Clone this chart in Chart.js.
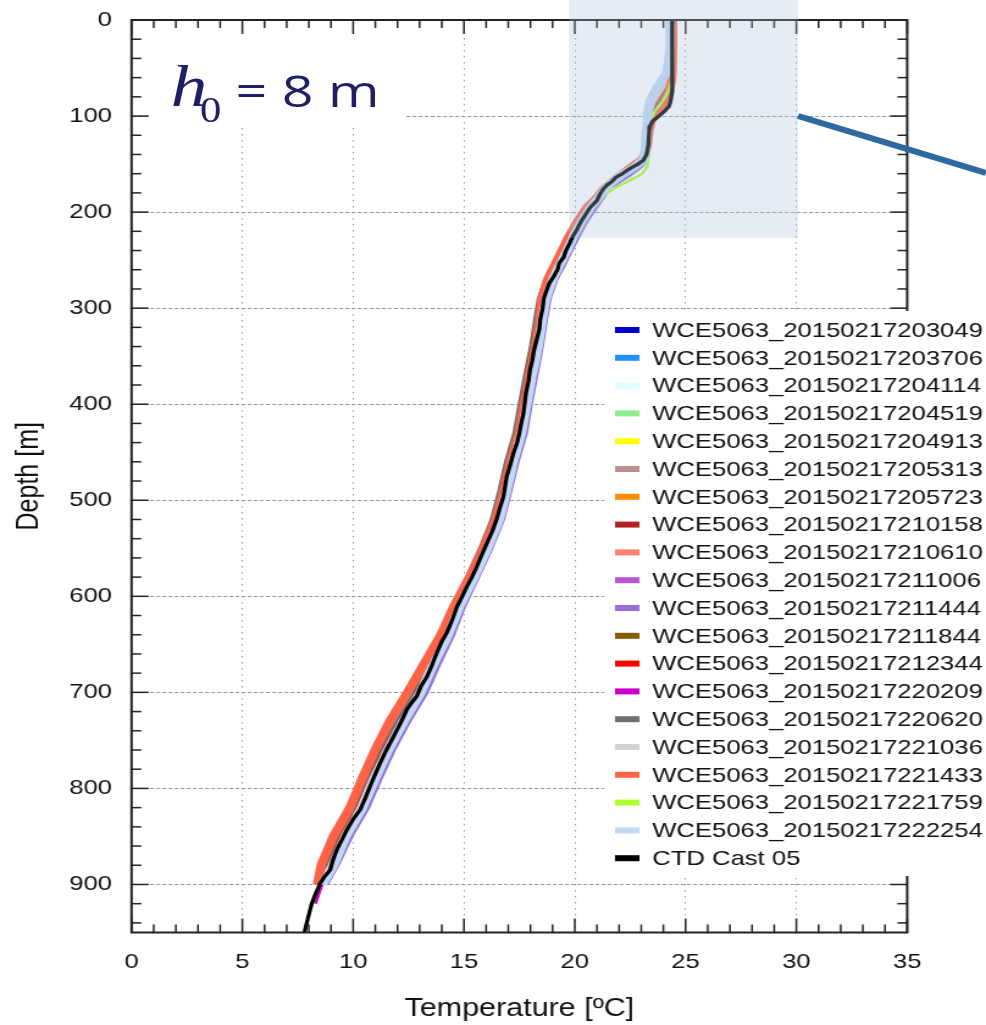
<!DOCTYPE html>
<html lang="en">
<head>
<meta charset="utf-8">
<title>Depth vs Temperature</title>
<script src="https://cdn.jsdelivr.net/npm/chart.js@4.4.1/dist/chart.umd.min.js"></script>
<style>
  html, body { margin: 0; padding: 0; background: #fff; overflow: hidden; }
  /* the source figure is stretched sideways, so the whole stage is too */
  #stage { position: relative; width: 808px; height: 1025px; transform: scaleX(1.2203); transform-origin: 0 0; }
  #depthChart { position: absolute; left: 0; top: 0; }
  #overlay { position: absolute; left: 0; top: 0; }
</style>
</head>
<body>
<div id="stage">
  <canvas id="depthChart" width="808" height="1025"></canvas>
  <svg id="overlay" width="808" height="1025" viewBox="0 0 808 1025">
    <rect x="466.3" y="0" width="187.7" height="238" fill="#a8bfdc" fill-opacity="0.3"/>
    <line x1="654" y1="116" x2="808" y2="173" stroke="#2e6aa1" stroke-width="6"/>
    <rect x="123" y="37" width="209" height="91" fill="#fff"/>
    <g fill="#201f66">
      <text x="140" y="106" font-family="Liberation Serif, serif" font-style="italic" font-size="60">h</text>
      <text x="164" y="122" font-family="Liberation Serif, serif" font-size="35">0</text>
      <text transform="translate(193 107) scale(1.06 1)" font-family="Open Sans, sans-serif" font-weight="500" font-size="43">= 8 m</text>
    </g>
  </svg>
</div>

<script>
// depth levels [m] shared by the WCE profiles
const DEPTH = [0, 30, 55, 65, 75, 85, 95, 105, 115, 130, 145, 152, 160, 168, 176, 185, 195,
  210, 225, 240, 255, 270, 290, 310, 340, 370, 400, 430, 460, 490, 520, 550, 580, 610, 640, 670, 700,
  730, 760, 790, 820, 850, 880, 900, 920, 950]

// the CTD cast is sampled more finely
const CTD_DEPTH = [0, 30, 60, 75, 85, 90, 95, 100, 105, 110, 115, 130, 140, 146, 150, 153, 156, 160, 164, 168,
  172, 176, 182, 188, 195, 202, 210, 218, 225, 232, 240, 247, 253, 260, 267, 274, 282, 290, 300, 312,
  322, 333, 345, 355, 364, 375, 388, 399, 410, 420, 430, 440, 451, 462, 475, 485, 497, 508, 520, 532,
  545, 557, 569, 580, 590, 600, 611, 624, 638, 648, 659, 672, 684, 694, 704, 712, 718, 730, 746, 760,
  774, 786, 798, 810, 822, 832, 843, 853, 864, 875, 885, 892, 899, 910, 920, 935, 950]

const X_TICKS = [0, 5, 10, 15, 20, 25, 30, 35]
const Y_TICKS = [0, 100, 200, 300, 400, 500, 600, 700, 800, 900]

// temperature [ºC] at each depth level, null = no data
const WCE_203049 = [24.42, 24.42, 24.40, 24.35, 24.22, 24.05, 23.70, 23.45, 23.36, 23.30, 23.12, 22.70, 22.18, 21.70, 21.30, 21.05, 20.70,
  20.30, 19.95, 19.63, 19.30, 18.95, 18.65, 18.50, 18.30, 18.03, 17.79, 17.55, 17.17, 16.87, 16.53, 16.00, 15.40, 14.75, 14.25, 13.60, 13.03,
  12.25, 11.55, 10.95, 10.38, 9.63, 9.07, 8.55, null, null]
const WCE_203706 = [24.45, 24.45, 24.40, 24.30, 24.10, 23.85, 23.55, 23.42, 23.35, 23.30, 23.12, 22.70, 22.20, 21.72, 21.32, 21.07, 20.72,
  20.33, 19.98, 19.66, 19.33, 18.98, 18.68, 18.53, 18.33, 18.06, 17.82, 17.58, 17.20, 16.90, 16.56, 16.03, 15.43, 14.78, 14.28, 13.63, 13.06,
  12.28, 11.58, 10.98, 10.41, 9.66, 9.10, 8.58, null, null]
const WCE_204114 = [24.44, 24.44, 24.38, 24.28, 24.05, 23.80, 23.52, 23.40, 23.34, 23.29, 23.14, 22.72, 22.22, 21.74, 21.34, 21.08, 20.74,
  20.37, 20.02, 19.70, 19.37, 19.02, 18.72, 18.57, 18.37, 18.10, 17.86, 17.62, 17.24, 16.94, 16.60, 16.07, 15.47, 14.82, 14.32, 13.67, 13.10,
  12.32, 11.62, 11.02, 10.45, 9.70, 9.14, 8.62, null, null]
const WCE_204519 = [24.42, 24.42, 24.40, 24.36, 24.25, 24.08, 23.72, 23.45, 23.36, 23.30, 23.14, 22.72, 22.22, 21.74, 21.34, 21.09, 20.76,
  20.40, 20.05, 19.73, 19.40, 19.05, 18.75, 18.60, 18.40, 18.13, 17.89, 17.65, 17.27, 16.97, 16.63, 16.10, 15.50, 14.85, 14.35, 13.70, 13.13,
  12.35, 11.65, 11.05, 10.48, 9.73, 9.17, 8.65, null, null]
const WCE_204913 = [24.45, 24.45, 24.42, 24.32, 24.15, 23.95, 23.75, 23.48, 23.38, 23.32, 23.15, 22.72, 22.22, 21.74, 21.34, 21.08, 20.74,
  20.43, 20.08, 19.76, 19.43, 19.08, 18.78, 18.63, 18.43, 18.16, 17.92, 17.68, 17.30, 17.00, 16.66, 16.13, 15.53, 14.88, 14.38, 13.73, 13.16,
  12.38, 11.68, 11.08, 10.51, 9.76, 9.20, 8.68, null, null]
const WCE_205313 = [24.45, 24.45, 24.35, 24.15, 23.90, 23.60, 23.45, 23.38, 23.33, 23.28, 23.10, 22.70, 22.20, 21.70, 21.30, 21.05, 20.70,
  20.27, 19.92, 19.60, 19.27, 18.92, 18.62, 18.47, 18.27, 18.00, 17.76, 17.52, 17.14, 16.84, 16.50, 15.97, 15.37, 14.72, 14.22, 13.57, 13.00,
  12.22, 11.52, 10.92, 10.35, 9.60, 9.04, 8.52, null, null]
const WCE_205723 = [24.45, 24.45, 24.40, 24.30, 24.10, 23.85, 23.55, 23.42, 23.35, 23.28, 23.08, 22.62, 22.10, 21.62, 21.22, 20.98, 20.60,
  20.10, 19.75, 19.43, 19.10, 18.75, 18.45, 18.30, 18.10, 17.83, 17.59, 17.35, 16.97, 16.67, 16.33, 15.80, 15.20, 14.55, 14.05, 13.40, 12.83,
  12.05, 11.35, 10.75, 10.18, 9.43, 8.87, 8.35, null, null]
const WCE_210158 = [24.46, 24.46, 24.36, 24.18, 23.92, 23.62, 23.46, 23.38, 23.33, 23.28, 23.10, 22.68, 22.18, 21.68, 21.28, 21.03, 20.66,
  20.20, 19.85, 19.53, 19.20, 18.85, 18.55, 18.40, 18.20, 17.93, 17.69, 17.45, 17.07, 16.77, 16.43, 15.90, 15.30, 14.65, 14.15, 13.50, 12.93,
  12.15, 11.45, 10.85, 10.28, 9.53, 8.97, 8.45, null, null]
const WCE_210610 = [24.42, 24.42, 24.40, 24.36, 24.25, 24.08, 23.72, 23.45, 23.36, 23.28, 23.06, 22.60, 22.08, 21.60, 21.20, 20.95, 20.55,
  20.05, 19.70, 19.38, 19.05, 18.70, 18.40, 18.25, 18.05, 17.78, 17.54, 17.30, 16.92, 16.62, 16.28, 15.75, 15.15, 14.50, 14.00, 13.35, 12.78,
  12.00, 11.30, 10.70, 10.13, 9.38, 8.82, 8.30, null, null]
const WCE_211006 = [24.45, 24.45, 24.40, 24.30, 24.10, 23.85, 23.55, 23.42, 23.36, 23.32, 23.18, 22.80, 22.32, 21.84, 21.44, 21.18, 20.85,
  20.47, 20.12, 19.80, 19.47, 19.12, 18.82, 18.67, 18.47, 18.20, 17.96, 17.72, 17.34, 17.04, 16.70, 16.17, 15.57, 14.92, 14.42, 13.77, 13.20,
  12.42, 11.72, 11.12, 10.55, 9.80, 9.24, 8.72, null, null]
const WCE_211444 = [24.45, 24.45, 24.42, 24.38, 24.30, 24.12, 23.85, 23.55, 23.42, 23.35, 23.25, 23.00, 22.55, 22.00, 21.55, 21.25, 20.95,
  20.50, 20.15, 19.82, 19.50, 19.15, 18.85, 18.70, 18.50, 18.25, 18.00, 17.78, 17.40, 17.08, 16.75, 16.22, 15.62, 15.00, 14.50, 13.88, 13.30,
  12.52, 11.82, 11.22, 10.65, 9.90, 9.28, 8.78, null, null]
const WCE_211844 = [24.44, 24.44, 24.34, 24.12, 23.88, 23.58, 23.44, 23.37, 23.33, 23.29, 23.10, 22.66, 22.15, 21.68, 21.28, 21.05, 20.70,
  20.25, 19.90, 19.58, 19.25, 18.90, 18.60, 18.45, 18.25, 17.98, 17.74, 17.50, 17.12, 16.82, 16.48, 15.95, 15.35, 14.70, 14.20, 13.55, 12.98,
  12.20, 11.50, 10.90, 10.33, 9.58, 9.02, 8.50, null, null]
const WCE_212344 = [24.50, 24.50, 24.35, 24.20, 23.95, 23.65, 23.48, 23.40, 23.35, 23.30, 23.12, 22.70, 22.20, 21.70, 21.30, 21.02, 20.65,
  20.20, 19.85, 19.50, 19.15, 18.82, 18.52, 18.38, 18.18, 17.92, 17.68, 17.42, 17.05, 16.75, 16.42, 15.88, 15.28, 14.62, 14.10, 13.45, 12.85,
  12.05, 11.30, 10.60, 10.10, 9.40, 8.85, 8.45, null, null]
const WCE_220209 = [24.42, 24.42, 24.40, 24.37, 24.28, 24.12, 23.78, 23.46, 23.37, 23.31, 23.12, 22.70, 22.20, 21.72, 21.32, 21.08, 20.74,
  20.35, 20.00, 19.68, 19.35, 19.00, 18.70, 18.55, 18.35, 18.08, 17.84, 17.60, 17.22, 16.92, 16.58, 16.05, 15.45, 14.80, 14.30, 13.65, 13.08,
  12.30, 11.60, 11.00, 10.43, 9.68, 9.12, 8.60, 8.30, null]
const WCE_220620 = [24.45, 24.45, 24.40, 24.30, 24.10, 23.85, 23.55, 23.42, 23.35, 23.28, 23.08, 22.62, 22.10, 21.62, 21.22, 20.96, 20.58,
  20.00, 19.65, 19.33, 19.00, 18.65, 18.35, 18.20, 18.00, 17.73, 17.49, 17.25, 16.87, 16.57, 16.23, 15.70, 15.10, 14.45, 13.95, 13.30, 12.73,
  11.95, 11.22, 10.62, 10.05, 9.30, 8.77, 8.28, null, null]
const WCE_221036 = [24.45, 24.45, 24.35, 24.15, 23.90, 23.60, 23.45, 23.38, 23.33, 23.28, 23.08, 22.66, 22.14, 21.66, 21.26, 21.00, 20.64,
  20.15, 19.80, 19.48, 19.15, 18.80, 18.50, 18.35, 18.15, 17.88, 17.64, 17.40, 17.02, 16.72, 16.38, 15.85, 15.25, 14.60, 14.10, 13.45, 12.88,
  12.10, 11.40, 10.80, 10.23, 9.48, 8.92, 8.40, null, null]
const WCE_221433 = [24.42, 24.42, 24.40, 24.35, 24.25, 24.10, 23.80, 23.45, 23.35, 23.28, 23.05, 22.60, 22.15, 21.70, 21.30, 21.00, 20.55,
  20.12, 19.75, 19.43, 19.10, 18.78, 18.52, 18.43, 18.23, 17.96, 17.72, 17.48, 17.10, 16.80, 16.44, 15.88, 15.25, 14.55, 13.95, 13.20, 12.45,
  11.65, 10.98, 10.40, 9.85, 9.10, 8.55, 8.38, null, null]
const WCE_221759 = [24.45, 24.45, 24.40, 24.35, 24.20, 23.95, 23.60, 23.42, 23.38, 23.35, 23.30, 23.28, 23.05, 22.40, 21.70, 21.22, 20.82,
  20.42, 20.08, 19.76, 19.40, 19.02, 18.68, 18.53, 18.33, 18.06, 17.82, 17.58, 17.20, 16.90, 16.56, 16.03, 15.43, 14.78, 14.28, 13.63, 13.06,
  12.28, 11.58, 10.98, 10.41, 9.66, 9.10, 8.58, null, null]
const WCE_222254 = [24.32, 24.30, 24.15, 23.85, 23.60, 23.38, 23.30, 23.27, 23.24, 23.20, 23.10, 22.75, 22.20, 21.72, 21.35, 21.08, 20.72,
  20.30, 19.95, 19.65, 19.32, 19.00, 18.70, 18.55, 18.35, 18.08, 17.84, 17.60, 17.23, 16.93, 16.60, 16.07, 15.47, 14.82, 14.30, 13.65, 13.07,
  12.30, 11.60, 11.00, 10.43, 9.68, 9.12, 8.62, null, null]
const CTD_CAST_05 = [24.40, 24.40, 24.40, 24.39, 24.32, 24.25, 24.05, 23.80, 23.52, 23.40, 23.36, 23.32, 23.24, 23.10, 22.85, 22.62, 22.40, 22.15, 21.85, 21.68,
  21.45, 21.28, 21.12, 21.00, 20.70, 20.50, 20.28, 20.10, 19.92, 19.78, 19.60, 19.50, 19.30, 19.22, 19.05, 18.85, 18.72, 18.60, 18.55, 18.44,
  18.40, 18.28, 18.15, 18.08, 17.98, 17.92, 17.80, 17.74, 17.68, 17.58, 17.50, 17.40, 17.23, 17.10, 16.93, 16.86, 16.77, 16.62, 16.47, 16.28,
  16.03, 15.80, 15.58, 15.36, 15.13, 14.92, 14.68, 14.48, 14.22, 13.98, 13.77, 13.55, 13.32, 13.05, 12.87, 12.60, 12.42, 12.18, 11.82, 11.50,
  11.21, 10.98, 10.76, 10.55, 10.32, 10.00, 9.72, 9.50, 9.26, 9.08, 8.96, 8.70, 8.51, 8.30, 8.13, 7.96, 7.80]

// label, depth levels, values, colour, line width (later entries are drawn on top)
const SERIES = [
  { label: "WCE5063_20150217203049", depths: DEPTH, temps: WCE_203049, color: "#0000c8", width: 2.5 },
  { label: "WCE5063_20150217203706", depths: DEPTH, temps: WCE_203706, color: "#1e90ff", width: 2.5 },
  { label: "WCE5063_20150217204114", depths: DEPTH, temps: WCE_204114, color: "#e0ffff", width: 2.5 },
  { label: "WCE5063_20150217204519", depths: DEPTH, temps: WCE_204519, color: "#90ee90", width: 2.5 },
  { label: "WCE5063_20150217204913", depths: DEPTH, temps: WCE_204913, color: "#ffff00", width: 2.5 },
  { label: "WCE5063_20150217205313", depths: DEPTH, temps: WCE_205313, color: "#bc8f8f", width: 2.5 },
  { label: "WCE5063_20150217205723", depths: DEPTH, temps: WCE_205723, color: "#ff8c00", width: 2.5 },
  { label: "WCE5063_20150217210158", depths: DEPTH, temps: WCE_210158, color: "#b22222", width: 2.5 },
  { label: "WCE5063_20150217210610", depths: DEPTH, temps: WCE_210610, color: "#fa8072", width: 2.5 },
  { label: "WCE5063_20150217211006", depths: DEPTH, temps: WCE_211006, color: "#ba55d3", width: 2.5 },
  { label: "WCE5063_20150217211444", depths: DEPTH, temps: WCE_211444, color: "#9370db", width: 4 },
  { label: "WCE5063_20150217211844", depths: DEPTH, temps: WCE_211844, color: "#8b5a00", width: 2.5 },
  { label: "WCE5063_20150217212344", depths: DEPTH, temps: WCE_212344, color: "#ff0000", width: 2.5 },
  { label: "WCE5063_20150217220209", depths: DEPTH, temps: WCE_220209, color: "#cc00cc", width: 2.5 },
  { label: "WCE5063_20150217220620", depths: DEPTH, temps: WCE_220620, color: "#707070", width: 2.5 },
  { label: "WCE5063_20150217221036", depths: DEPTH, temps: WCE_221036, color: "#d3d3d3", width: 2.5 },
  { label: "WCE5063_20150217221433", depths: DEPTH, temps: WCE_221433, color: "#ff6347", width: 7.5 },
  { label: "WCE5063_20150217221759", depths: DEPTH, temps: WCE_221759, color: "#adff2f", width: 2.5 },
  { label: "WCE5063_20150217222254", depths: DEPTH, temps: WCE_222254, color: "#c3d9f3", width: 7.5 },
  { label: "CTD Cast 05", depths: CTD_DEPTH, temps: CTD_CAST_05, color: "#000000", width: 3.3 },
]

const FONT = '"Liberation Sans", Arial, sans-serif'
const TEXT_COLOR = "#111"

// gnuplot-style frame with inward ticks on all four sides
const frameTicks = {
  id: "frameTicks",
  afterDatasetsDraw(chart) {
    const { ctx, chartArea: a, scales } = chart
    const seg = (x1, y1, x2, y2) => {
      ctx.beginPath()
      ctx.moveTo(x1, y1)
      ctx.lineTo(x2, y2)
      ctx.stroke()
    }
    ctx.save()
    ctx.strokeStyle = "#222"
    ctx.lineWidth = 1.5
    for (let t = 0; t <= 35; t += 1) {
      const px = scales.x.getPixelForValue(t)
      const len = t % 5 === 0 ? 14 : 8
      seg(px, a.top, px, a.top + len)
      seg(px, a.bottom, px, a.bottom - len)
    }
    for (let d = 0; d <= 950; d += 20) {
      const py = scales.y.getPixelForValue(d)
      const len = d % 100 === 0 ? 14 : 8
      seg(a.left, py, a.left + len, py)
      seg(a.right, py, a.right - len, py)
    }
    ctx.lineWidth = 2
    ctx.strokeRect(a.left, a.top, a.right - a.left, a.bottom - a.top)
    ctx.restore()
  },
}

// key box sitting over the right side of the plot
const boxLegend = {
  id: "boxLegend",
  afterDraw(chart) {
    const { ctx } = chart
    ctx.save()
    ctx.fillStyle = "#fff"
    ctx.fillRect(495, 311, 313, 565)
    ctx.font = "21px " + FONT
    ctx.textBaseline = "middle"
    chart.data.datasets.forEach((ds, i) => {
      const yy = 330 + i * 27.8
      ctx.strokeStyle = ds.borderColor
      ctx.lineWidth = 6
      ctx.beginPath()
      ctx.moveTo(504, yy)
      ctx.lineTo(524, yy)
      ctx.stroke()
      ctx.fillStyle = TEXT_COLOR
      ctx.fillText(ds.label, 534.5, yy + 1)
    })
    ctx.restore()
  },
}

function buildDatasets() {
  return SERIES.map((s, i) => ({
    label: s.label,
    data: s.depths.map((d, k) => ({ x: s.temps[k], y: d })).filter((p) => p.x !== null && p.x !== undefined),
    borderColor: s.color,
    backgroundColor: s.color,
    borderWidth: s.width,
    showLine: true,
    pointRadius: 0,
    order: SERIES.length - i,
  }))
}

document.addEventListener("DOMContentLoaded", () => {
  new Chart(document.getElementById("depthChart"), {
    type: "scatter",
    data: { datasets: buildDatasets() },
    options: {
      responsive: false,
      animation: false,
      devicePixelRatio: 1,
      events: [],
      layout: { padding: { top: 20, right: 64.6, bottom: 0, left: 0 } },
      plugins: {
        legend: { display: false },
        tooltip: { enabled: false },
      },
      scales: {
        x: {
          type: "linear",
          min: 0,
          max: 35,
          afterBuildTicks: (scale) => {
            scale.ticks = X_TICKS.map((v) => ({ value: v }))
          },
          afterFit: (scale) => {
            scale.height = 92.5
            scale.paddingLeft = 0
            scale.paddingRight = 0
          },
          ticks: { font: { family: FONT, size: 21 }, color: TEXT_COLOR, padding: 17, maxRotation: 0, autoSkip: false },
          grid: { color: "#9a9a9a", lineWidth: 1, drawTicks: false },
          border: { display: false, dash: [1.5, 4.5] },
          title: {
            display: true,
            text: "Temperature [ºC]",
            color: TEXT_COLOR,
            font: { family: FONT, size: 25 },
            padding: { top: 0, bottom: 1 },
          },
        },
        y: {
          type: "linear",
          reverse: true,
          min: 0,
          max: 950,
          afterBuildTicks: (scale) => {
            scale.ticks = Y_TICKS.map((v) => ({ value: v }))
          },
          afterFit: (scale) => {
            scale.width = 107.8
            scale.paddingTop = 0
            scale.paddingBottom = 0
          },
          ticks: { font: { family: FONT, size: 21 }, color: TEXT_COLOR, padding: 16, autoSkip: false },
          grid: { color: "#9a9a9a", lineWidth: 1, drawTicks: false },
          border: { display: false, dash: [3.3, 1.7] },
          title: {
            display: true,
            text: "Depth [m]",
            color: TEXT_COLOR,
            font: { family: FONT, size: 25 },
            padding: { top: 9.6, bottom: 0 },
          },
        },
      },
    },
    plugins: [frameTicks, boxLegend],
  })
})
</script>
</body>
</html>
